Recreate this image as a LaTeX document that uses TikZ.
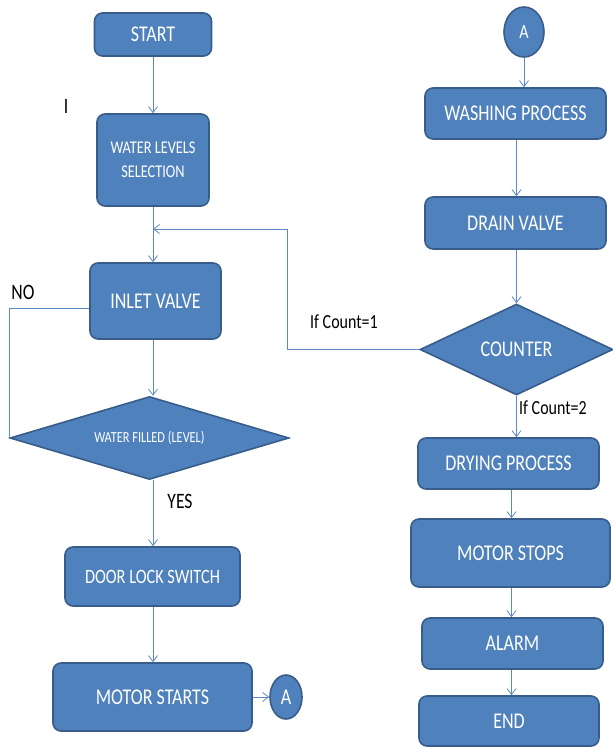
\documentclass[tikz,border=0pt]{standalone}
\usepackage{fontspec}
\setmainfont{Carlito}[FakeStretch=0.8]
\usepackage{tikz}
\usetikzlibrary{positioning,arrows.meta,shapes.geometric}
\definecolor{bfill}{HTML}{4F81BD}
\definecolor{bline}{HTML}{385D8A}
\definecolor{alin}{HTML}{5B8AC6}

\begin{document}
\begin{tikzpicture}[x=1pt, y=-1pt,
  >={Straight Barb[length=6pt,width=9pt]},
  s/.style={draw=bline, fill=bfill, line width=1.6pt, rounded corners=8pt, text=white,
    inner sep=0pt, font=\fontsize{22.5}{26}\selectfont},
  d/.style={s, diamond, sharp corners},
  c/.style={s, ellipse},
  l/.style={font=\fontsize{20}{24}\selectfont},
  e/.style={->, draw=alin, line width=0.8pt}]
\useasboundingbox (0,0) rectangle (613,747);
% left column
\node[s, minimum width=117pt, minimum height=43pt] (st) at (153,34.5) {START};
\node[s, minimum width=112pt, minimum height=92pt, align=center,
  font=\fontsize{17.9}{24}\selectfont] (wl) at (153,160) {WATER LEVELS\\SELECTION};
\node[s, minimum width=131pt, minimum height=76pt] (iv) at (155.5,301) {INLET VALVE};
\node[d, aspect=3.4, minimum width=279pt, minimum height=83pt, font=\fontsize{15.4}{18}\selectfont] (wf) at (149.5,438) {WATER FILLED (LEVEL)};
\node[s, minimum width=175pt, minimum height=59pt, font=\fontsize{20.4}{24}\selectfont] (dl) at (152.5,576.5) {DOOR LOCK SWITCH};
\node[s, minimum width=199pt, minimum height=68pt] (mo) at (152.5,697) {MOTOR STARTS};
\node[c, minimum width=32pt, minimum height=44pt] (a1) at (286,697) {A};
% right column
\node[c, minimum width=40pt, minimum height=50pt, font=\fontsize{20}{24}\selectfont] (a2) at (524,32) {A};
\node[s, minimum width=181pt, minimum height=51pt] (wp) at (515.5,113.5) {WASHING PROCESS};
\node[s, minimum width=181pt, minimum height=52pt] (dv) at (515.5,223) {DRAIN VALVE};
\node[d, aspect=2.1, minimum width=193pt, minimum height=91pt] (ct) at (516.5,349.5) {COUNTER};
\node[s, minimum width=181pt, minimum height=51pt] (dr) at (508.5,463.5) {DRYING PROCESS};
\node[s, minimum width=199pt, minimum height=68pt] (ms) at (510.5,553) {MOTOR STOPS};
\node[s, minimum width=181pt, minimum height=51pt] (al) at (512.5,643.5) {ALARM};
\node[s, minimum width=180pt, minimum height=50pt] (en) at (509,721) {END};
% labels
\node[l, font=\fontsize{22}{24}\selectfont] (cur) at (66,106) {I};
\node[l, font=\fontsize{22}{24}\selectfont] (no) at (23,292) {NO};
\node[l, font=\fontsize{22}{24}\selectfont] (yes) at (180,501) {YES};
\node[l] (c1) at (344,322) {If Count=1};
\node[l] (c2) at (553,408) {If Count=2};
\coordinate (j) at (153,229);
\coordinate (k) at (287,229);
% connectors
\draw[e] (st) -- (wl); \draw[e] (wl.south) -- (wl.south |- iv.north);
\draw[e] (wl.south |- iv.south) -- (wl.south |- wf.north);
\draw[e] (wl.south |- wf.south) -- (wl.south |- dl.north);
\draw[e] (wl.south |- dl.south) -- (wl.south |- mo.north);
\draw[e] (mo) -- (a1);
\draw[draw=alin, line width=0.8pt] (wf.west) |- ([yshift=-7pt]iv.west);
\draw[e] (ct.west) -| (k) -- (j);
\draw[e] (a2) -- (a2 |- wp.north);
\draw[e] (ct.north |- wp.south) -- (ct.north |- dv.north);
\draw[e] (ct.north |- dv.south) -- (ct.north);
\draw[e] (ct.south) -- (ct.south |- dr.north);
\draw[e] ([xshift=3pt]dr.south) -- ([xshift=3pt]dr.south |- ms.north);
\draw[e] ([xshift=3pt]dr.south |- ms.south) -- ([xshift=3pt]dr.south |- al.north);
\draw[e] ([xshift=3pt]dr.south |- al.south) -- ([xshift=3pt]dr.south |- en.north);
\end{tikzpicture}
\end{document}
